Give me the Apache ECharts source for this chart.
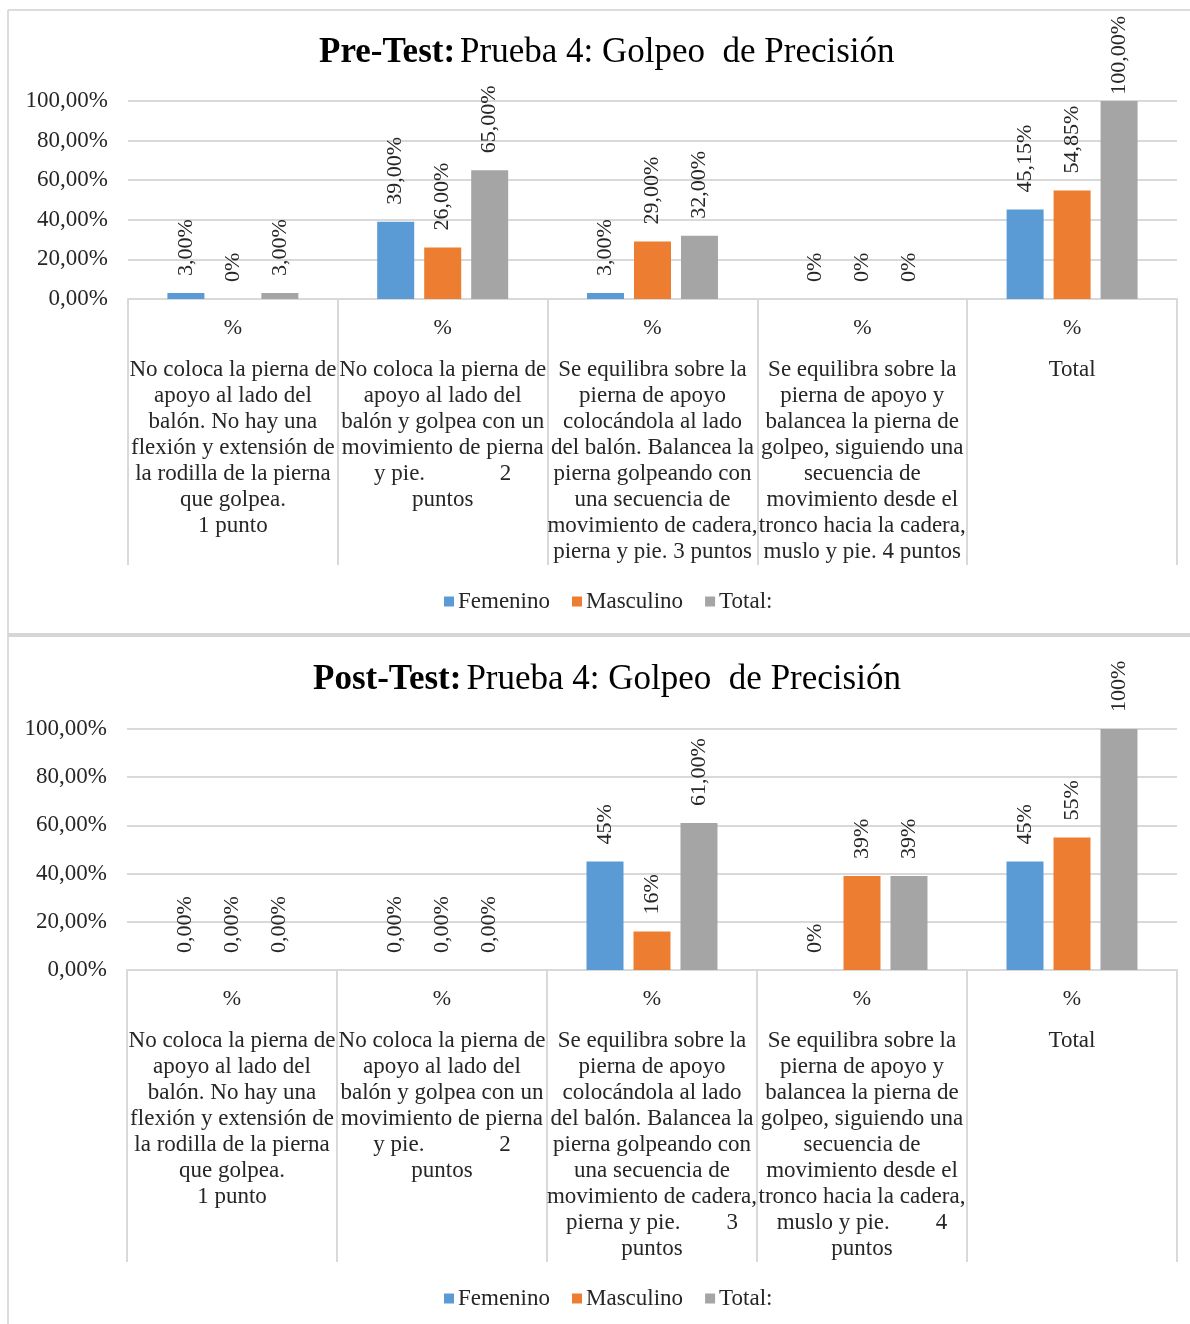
<!DOCTYPE html>
<html>
<head>
<meta charset="utf-8">
<script src="https://cdn.jsdelivr.net/npm/echarts@6/dist/echarts.min.js"></script>
<style>
  html, body { margin: 0; padding: 0; background: #ffffff; }
  #chart { width: 1190px; height: 1324px; }
</style>
</head>
<body>
<div id="chart"></div>
<script>
// Category descriptions (criteria of Prueba 4)
const categoriesPre = [
  'No coloca la pierna de\napoyo al lado del\nbalón. No hay una\nflexión y extensión de\nla rodilla de la pierna\nque golpea.\n1 punto',
  'No coloca la pierna de\napoyo al lado del\nbalón y golpea con un\nmovimiento de pierna\ny pie.             2\npuntos',
  'Se equilibra sobre la\npierna de apoyo\ncolocándola al lado\ndel balón. Balancea la\npierna golpeando con\nuna secuencia de\nmovimiento de cadera,\npierna y pie. 3 puntos',
  'Se equilibra sobre la\npierna de apoyo y\nbalancea la pierna de\ngolpeo, siguiendo una\nsecuencia de\nmovimiento desde el\ntronco hacia la cadera,\nmuslo y pie. 4 puntos',
  'Total'
];
const categoriesPost = [
  'No coloca la pierna de\napoyo al lado del\nbalón. No hay una\nflexión y extensión de\nla rodilla de la pierna\nque golpea.\n1 punto',
  'No coloca la pierna de\napoyo al lado del\nbalón y golpea con un\nmovimiento de pierna\ny pie.             2\npuntos',
  'Se equilibra sobre la\npierna de apoyo\ncolocándola al lado\ndel balón. Balancea la\npierna golpeando con\nuna secuencia de\nmovimiento de cadera,\npierna y pie.        3\npuntos',
  'Se equilibra sobre la\npierna de apoyo y\nbalancea la pierna de\ngolpeo, siguiendo una\nsecuencia de\nmovimiento desde el\ntronco hacia la cadera,\nmuslo y pie.        4\npuntos',
  'Total'
];

const seriesNames = ['Femenino', 'Masculino', 'Total:'];
const seriesColors = ['#5B9BD5', '#ED7D31', '#A5A5A5'];

// Pre-Test values (%)
const preFemenino  = [3, 39, 3, 0, 45.15];
const preMasculino = [0, 26, 29, 0, 54.85];
const preTotal     = [3, 65, 32, 0, 100];
// decimals shown in each data label
const preFemeninoDec  = [2, 2, 2, 0, 2];
const preMasculinoDec = [0, 2, 2, 0, 2];
const preTotalDec     = [2, 2, 2, 0, 2];

// Post-Test values (%)
const postFemenino  = [0, 0, 45, 0, 45];
const postMasculino = [0, 0, 16, 39, 55];
const postTotal     = [0, 0, 61, 39, 100];
const postFemeninoDec  = [2, 2, 0, 0, 0];
const postMasculinoDec = [2, 2, 0, 0, 0];
const postTotalDec     = [2, 2, 2, 0, 0];

const yMin = 0, yMax = 100, yStep = 20;

const SERIF = "'Liberation Serif', 'Times New Roman', serif";
const GRID_COLOR = '#d9d9d9';
const TEXT_COLOR = '#262626';
const LABEL_SIZE = 22;
const LABEL_GAP = 17;
// room above the plot area available for a rotated label (px)
const LABEL_ROOM = [85, 1000];

function pct(v, d) {
  return v.toFixed(d).replace('.', ',') + '%';
}

// rough length of a rotated label, used to keep long labels inside the panel
function labelLength(text) {
  let w = 0;
  for (const ch of text) w += (ch === ',' ? 0.25 : ch === '%' ? 0.833 : 0.5);
  return w * LABEL_SIZE;
}

function makeSeries(name, color, values, decimals, idx) {
  return {
    name: name,
    type: 'bar',
    xAxisIndex: idx,
    yAxisIndex: idx,
    barWidth: 37,
    barGap: '27%',
    itemStyle: { color: color },
    data: values.map((v, i) => {
      const text = pct(v, decimals[i]);
      const barHeadroom = (yMax - v) / (yMax - yMin);
      const item = { value: v };
      // Shift the label down when it would run out of the top of the panel
      if (barHeadroom === 0) {
        const over = LABEL_GAP + labelLength(text) - LABEL_ROOM[idx];
        if (over > 0) item.label = { distance: Math.max(4, LABEL_GAP - over) };
      }
      return item;
    }),
    label: {
      show: true,
      position: 'top',
      rotate: 90,
      align: 'left',
      verticalAlign: 'middle',
      distance: LABEL_GAP,
      fontFamily: SERIF,
      fontSize: LABEL_SIZE,
      color: TEXT_COLOR,
      formatter: p => pct(values[p.dataIndex], decimals[p.dataIndex])
    }
  };
}

function xAxisFor(cats, idx) {
  return {
    type: 'category',
    gridIndex: idx,
    data: cats,
    axisLine: { show: true, lineStyle: { color: GRID_COLOR, width: 2 } },
    axisTick: { show: true, length: idx === 0 ? 266 : 292, lineStyle: { color: GRID_COLOR, width: 2 } },
    axisLabel: {
      interval: 0,
      margin: 0,
      formatter: v => '{p|%}\n{t|' + v + '}',
      rich: {
        p: { fontFamily: SERIF, fontSize: 22, lineHeight: 58, color: TEXT_COLOR, align: 'center' },
        t: { fontFamily: SERIF, fontSize: 23, lineHeight: 26, color: TEXT_COLOR, align: 'center' }
      }
    }
  };
}

function yAxisFor(idx) {
  return {
    type: 'value',
    gridIndex: idx,
    min: yMin,
    max: yMax,
    interval: yStep,
    axisLine: { show: false },
    axisTick: { show: false },
    splitLine: { lineStyle: { color: GRID_COLOR, width: 2 } },
    axisLabel: {
      margin: 20,
      fontFamily: SERIF,
      fontSize: 23,
      color: TEXT_COLOR,
      formatter: v => pct(v, 2)
    }
  };
}

function titleFor(boldPart, left, top) {
  return {
    text: '{b|' + boldPart + '} {r|Prueba 4: Golpeo  de Precisión}',
    left: left,
    top: top,
    textStyle: {
      rich: {
        b: { fontFamily: SERIF, fontSize: 35, fontWeight: 'bold', color: '#000', lineHeight: 40 },
        r: { fontFamily: SERIF, fontSize: 35, fontWeight: 'normal', color: '#000', lineHeight: 40 }
      }
    }
  };
}

function legendFor(top) {
  return {
    data: seriesNames,
    left: 439,
    top: top,
    icon: 'rect',
    itemWidth: 10,
    itemHeight: 10,
    itemGap: 22,
    textStyle: { fontFamily: SERIF, fontSize: 23, color: TEXT_COLOR, padding: [0, 0, 0, -1] }
  };
}

const chart = echarts.init(document.getElementById('chart'), null, { renderer: 'canvas' });

chart.setOption({
  animation: false,
  backgroundColor: '#ffffff',
  title: [titleFor('Pre-Test:', 314, 28), titleFor('Post-Test:', 308, 655)],
  legend: [legendFor(585), legendFor(1282)],
  grid: [
    { left: 128, right: 13, top: 101, height: 198 },
    { left: 127, right: 13, top: 729, height: 241 }
  ],
  xAxis: [xAxisFor(categoriesPre, 0), xAxisFor(categoriesPost, 1)],
  yAxis: [yAxisFor(0), yAxisFor(1)],
  series: [
    makeSeries(seriesNames[0], seriesColors[0], preFemenino, preFemeninoDec, 0),
    makeSeries(seriesNames[1], seriesColors[1], preMasculino, preMasculinoDec, 0),
    makeSeries(seriesNames[2], seriesColors[2], preTotal, preTotalDec, 0),
    makeSeries(seriesNames[0], seriesColors[0], postFemenino, postFemeninoDec, 1),
    makeSeries(seriesNames[1], seriesColors[1], postMasculino, postMasculinoDec, 1),
    makeSeries(seriesNames[2], seriesColors[2], postTotal, postTotalDec, 1)
  ],
  graphic: [
    // frame around the two panels
    { type: 'line', shape: { x1: 8, y1: 10, x2: 1190, y2: 10 }, style: { stroke: '#dcdcdc', lineWidth: 2 } },
    { type: 'line', shape: { x1: 8, y1: 10, x2: 8, y2: 1324 }, style: { stroke: '#dcdcdc', lineWidth: 2 } },
    { type: 'line', shape: { x1: 8, y1: 635, x2: 1190, y2: 635 }, style: { stroke: '#d6d6d6', lineWidth: 4 } }
  ]
});
</script>
</body>
</html>
